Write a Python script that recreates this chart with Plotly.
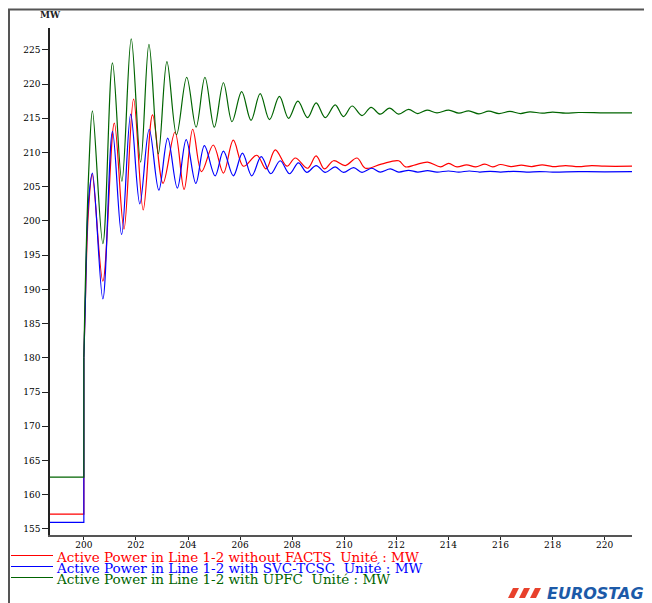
import plotly.graph_objects as go

# ---------------- data ----------------
t_pre = [198.7, 200.0, 200.0]
red_pre = [157.15, 157.15, 180.0]
blue_pre = [155.95, 155.95, 180.0]
green_pre = [162.55, 162.55, 180.0]

green_t = [200.0, 200.04, 200.19, 200.33, 200.73, 201.10, 201.46, 201.82, 202.18, 202.50,
           202.86, 203.19, 203.56, 203.95, 204.31, 204.65, 205.01, 205.36, 205.69, 206.06,
           206.42, 206.77, 207.13, 207.51, 207.86, 208.22, 208.59, 208.92, 209.27, 209.65,
           209.97, 210.30, 210.68, 211.03, 211.38, 211.74, 212.09, 212.47, 212.82, 213.18,
           213.56, 214.01, 214.40, 214.78, 215.17, 215.55, 215.94, 216.36, 216.77, 217.13,
           217.60, 218.00, 218.50, 219.00, 220.00, 221.05]
green_v = [180.0, 188.0, 207.5, 216.1, 196.7, 223.1, 205.8, 226.6, 208.6, 225.8,
           209.8, 223.3, 212.6, 221.0, 213.7, 221.0, 213.7, 220.2, 214.5, 218.9,
           214.7, 218.6, 214.8, 218.2, 215.0, 217.5, 215.1, 217.25, 215.1, 216.96,
           215.25, 216.8, 215.4, 216.6, 215.6, 216.5, 215.6, 216.3, 215.7, 216.2,
           215.8, 216.2, 215.75, 216.1, 215.65, 216.05, 215.7, 216.0, 215.7, 215.95,
           215.75, 215.9, 215.75, 215.85, 215.8, 215.8]

red_t = [200.0, 200.05, 200.17, 200.32, 200.73, 201.17, 201.54, 201.91, 202.28, 202.64,
         203.04, 203.50, 203.85, 204.18, 204.52, 204.97, 205.36, 205.74, 206.13, 206.64,
         207.00, 207.35, 207.80, 208.12, 208.59, 208.92, 209.24, 209.59, 210.04, 210.49,
         210.81, 211.42, 212.09, 212.35, 212.73, 213.20, 213.70, 214.01, 214.33, 214.70,
         215.05, 215.40, 215.70, 216.00, 216.40, 216.80, 217.20, 217.60, 218.00, 218.50,
         219.00, 219.50, 220.00, 221.05]
red_v = [180.0, 187.0, 201.0, 206.8, 191.2, 214.3, 198.8, 217.8, 201.6, 215.5,
         205.5, 213.0, 204.6, 213.4, 207.2, 211.1, 207.0, 211.8, 208.0, 209.6,
         207.6, 210.4, 208.0, 209.2, 207.7, 209.5, 207.6, 208.8, 208.1, 209.2,
         207.7, 208.3, 208.8, 207.9, 208.2, 208.6, 207.9, 208.4, 207.9, 208.2,
         207.9, 208.3, 207.9, 208.25, 207.95, 208.15, 207.95, 208.2, 207.95, 208.1,
         207.95, 208.1, 208.0, 208.0]

blue_t = [200.0, 200.05, 200.18, 200.33, 200.73, 201.10, 201.45, 201.80, 202.15, 202.51,
          202.88, 203.22, 203.59, 203.93, 204.30, 204.63, 205.04, 205.36, 205.74, 206.09,
          206.45, 206.81, 207.18, 207.54, 207.90, 208.24, 208.56, 208.92, 209.27, 209.65,
          209.97, 210.36, 210.68, 211.06, 211.38, 211.77, 212.09, 212.47, 212.82, 213.20,
          213.56, 214.00, 214.40, 214.80, 215.20, 215.60, 216.00, 216.50, 217.00, 217.50,
          218.00, 219.00, 220.00, 221.05]
blue_v = [180.0, 187.0, 203.0, 207.0, 188.6, 213.1, 198.0, 215.6, 202.5, 213.4,
          204.5, 212.1, 204.8, 211.9, 205.5, 211.0, 206.6, 210.2, 206.6, 209.9,
          206.6, 209.4, 206.9, 208.8, 206.9, 208.5, 207.1, 208.1, 207.1, 207.9,
          207.1, 207.8, 207.1, 207.7, 207.15, 207.6, 207.15, 207.4, 207.15, 207.35,
          207.15, 207.3, 207.15, 207.3, 207.15, 207.25, 207.15, 207.25, 207.15, 207.22,
          207.15, 207.2, 207.18, 207.2]

x_ticks = [200, 202, 204, 206, 208, 210, 212, 214, 216, 218, 220]
y_ticks = [155, 160, 165, 170, 175, 180, 185, 190, 195, 200, 205, 210, 215, 220, 225]

legend_names = ["Active Power in Line 1-2 without FACTS  Unité : MW",
                "Active Power in Line 1-2 with SVC-TCSC  Unité : MW",
                "Active Power in Line 1-2 with UPFC  Unité : MW"]
colors = ["#ff0000", "#0000ff", "#006400"]

# ---------------- figure ----------------
# the page body has an 8 px margin, so the figure is 8 px smaller than the window
W, H = 644, 595
ML, MR, MT, MB = 42, 20, 20, 68
PW, PH = W - ML - MR, H - MT - MB
OFF = 8


def px(x):  # window pixel -> paper x
    return (x - OFF - ML) / PW


def py(y):  # window pixel -> paper y
    return (H - MB - (y - OFF)) / PH


fig = go.Figure()
series = [(red_pre, red_t, red_v), (blue_pre, blue_t, blue_v), (green_pre, green_t, green_v)]
for (pre, tt, vv), c, nm in zip(series, colors, legend_names):
    fig.add_trace(go.Scatter(x=t_pre, y=pre, mode="lines", line=dict(color=c, width=1.2),
                             name=nm, showlegend=False, hoverinfo="skip"))
    fig.add_trace(go.Scatter(x=tt, y=vv, mode="lines",
                             line=dict(color=c, width=1.2, shape="spline", smoothing=1.0),
                             name=nm, showlegend=False))

fig.update_layout(
    width=W, height=H, autosize=False,
    margin=dict(l=ML, r=MR, t=MT, b=MB, pad=0),
    paper_bgcolor="white", plot_bgcolor="white",
    showlegend=False,
    font=dict(family="DejaVu Serif", size=9, color="black"),
)
fig.update_xaxes(range=[198.7, 221.05], tickvals=x_ticks, ticktext=[str(v) for v in x_ticks],
                 showgrid=False, zeroline=False, showline=True, linecolor="#555", linewidth=2,
                 ticks="outside", ticklen=3, tickcolor="#222", tickwidth=1,
                 ticklabelstandoff=-3,
                 tickfont=dict(family="DejaVu Serif", size=9, color="black"))
fig.update_yaxes(range=[154.1, 228.2], tickvals=y_ticks, ticktext=[str(v) for v in y_ticks],
                 showgrid=False, zeroline=False, showline=True, linecolor="#222", linewidth=1.5,
                 ticks="outside", ticklen=6, tickcolor="#222", tickwidth=1,
                 tickfont=dict(family="DejaVu Serif", size=9, color="black"))

# unit label
fig.add_annotation(x=px(50), y=py(15), xref="paper", yref="paper", text="<b>MW</b>",
                   showarrow=False, xanchor="center", yanchor="middle",
                   font=dict(family="DejaVu Serif", size=9, color="#222"))

# legend drawn as text + sample lines
legend_rows = [557, 568, 579]
for yy, nm, c in zip(legend_rows, legend_names, colors):
    fig.add_shape(type="line", xref="paper", yref="paper", x0=px(11), x1=px(53),
                  y0=py(yy - 1.5), y1=py(yy - 1.5), line=dict(color=c, width=1.2))
    fig.add_annotation(x=px(54), y=py(yy), xref="paper", yref="paper", text=nm,
                       showarrow=False, xanchor="left", yanchor="middle",
                       font=dict(family="DejaVu Serif", size=13.5, color=c))

# outer frame (left and top)
fig.add_shape(type="line", xref="paper", yref="paper", x0=px(9), x1=px(9), y0=py(9), y1=py(603),
              line=dict(color="#555", width=2))
fig.add_shape(type="line", xref="paper", yref="paper", x0=px(8), x1=px(651), y0=py(9.5), y1=py(9.5),
              line=dict(color="#555", width=2))

# logo
for k in range(3):
    x0 = 508 + 11 * k
    path = (f"M {px(x0)} {py(598)} L {px(x0 + 6)} {py(598)} "
            f"L {px(x0 + 11)} {py(588)} L {px(x0 + 5)} {py(588)} Z")
    fig.add_shape(type="path", xref="paper", yref="paper", path=path,
                  fillcolor="#e8412c", line=dict(width=0))
fig.add_annotation(x=px(545), y=py(593), xref="paper", yref="paper",
                   text="<b><i>EUROSTAG</i></b>", showarrow=False,
                   xanchor="left", yanchor="middle",
                   font=dict(family="DejaVu Sans", size=16, color="#1c5aa8"))

fig.write_html("out.html")
